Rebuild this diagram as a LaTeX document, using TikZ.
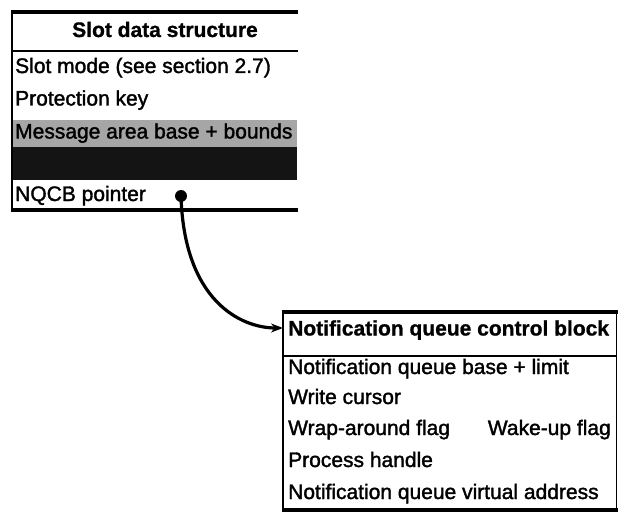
\documentclass[tikz,border=0pt]{standalone}
\usepackage{fontspec}
\setmainfont{Liberation Sans}
\font\rowfnt="Liberation Sans:embolden=1.6" at 21pt
\font\hdrfnt="Liberation Sans/B:embolden=1.0" at 21pt
\usetikzlibrary{arrows.meta,calc}
\begin{document}
\begin{tikzpicture}[x=1pt,y=-1pt,
  rowtxt/.style={anchor=base west,inner sep=0pt,font=\rowfnt},
  hdrtxt/.style={anchor=base,inner sep=0pt,font=\hdrfnt},
  heavyline/.style={line width=4.5pt},
  lightline/.style={line width=1.4pt},
  pointer/.style={line width=3.2pt,-{Stealth[length=12pt,width=9pt]}},
]
\useasboundingbox (0,0) rectangle (619,516);
% ---------- Slot data structure ----------
\fill[black!35] (12,120) rectangle (297,147);
\fill[black!92] (12,147) rectangle (297,180);
\draw[heavyline] (11,12) -- (298,12);
\draw[lightline] (12,51) -- (298,51);
\draw[heavyline] (11,210) -- (298,210);
\draw[lightline] (12,10) -- (12,212);
\node[hdrtxt] (sdshead) at (165,37) {Slot data structure};
\node[rowtxt] (slotmode) at (15,73) {Slot mode (see section 2.7)};
\node[rowtxt] (protkey) at (15,105.5) {Protection key};
\node[rowtxt] (msgarea) at (15,138.5) {Message area base + bounds};
\node[rowtxt] (nqcbptr) at (15,201) {NQCB pointer};
\node[circle,fill=black,inner sep=0pt,minimum size=12pt] (dot) at (181,196) {};
% ---------- Notification queue control block ----------
\draw[heavyline] (282,312) -- (618,312);
\draw[lightline] (283,356) -- (617,356);
\draw[heavyline] (282,510) -- (618,510);
\draw[lightline] (283,310) -- (283,512);
\draw[lightline] (616.5,310) -- (616.5,512);
\node[hdrtxt,anchor=base west] (nqhead) at (288,335.5) {Notification queue control block};
\node[rowtxt] (nqbase) at (288,374) {Notification queue base + limit};
\node[rowtxt] (wcursor) at (288,404) {Write cursor};
\node[rowtxt] (wrapflag) at (288,435) {Wrap-around flag};
\node[rowtxt,anchor=base east] (wakeflag) at (611,435) {Wake-up flag};
\node[rowtxt] (phandle) at (288,467) {Process handle};
\node[rowtxt] (nqvaddr) at (288,499) {Notification queue virtual address};
\coordinate (nqin) at (283,328);
% ---------- pointer ----------
\draw[pointer] (dot.center) .. controls ($(dot.center)+(3,104)$) and ($(nqin)+(-43,0)$) .. (nqin);
\end{tikzpicture}
\end{document}
